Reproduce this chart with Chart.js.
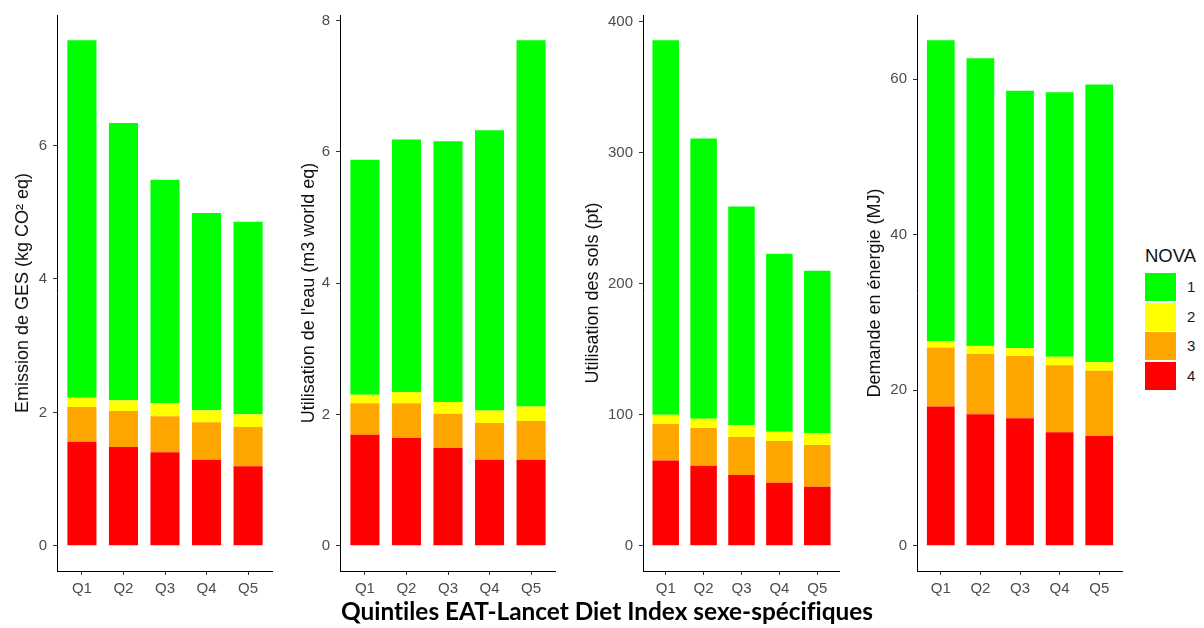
<!DOCTYPE html>
<html lang="fr">
<head>
<meta charset="utf-8">
<title>Impacts environnementaux par quintile EAT-Lancet et groupe NOVA</title>
<script src="https://cdn.jsdelivr.net/npm/chart.js@4.4.1/dist/chart.umd.min.js"></script>
<style>
  html, body { margin: 0; padding: 0; background: #ffffff; }
  body { width: 1204px; height: 628px; position: relative; overflow: hidden; }
  .panel { position: absolute; top: 0; height: 628px; }
  .panel canvas { display: block; }
  #xTitle {
    position: absolute; left: 307px; width: 600px; top: 599px;
    text-align: center; font: bold 24.4px/24px Lato, "Open Sans", sans-serif; color: #000;
    white-space: nowrap; font-variant-ligatures: none; font-feature-settings: "liga" 0;
  }
  #legend { position: absolute; left: 1145px; top: 247px; font-family: "Liberation Sans", Arial, sans-serif; }
  #legend .ttl { font-size: 18.5px; line-height: 18px; color: #111; height: 26px; }
  #legend .row { position: relative; height: 29.5px; }
  #legend .key { position: absolute; left: 0; top: 0; width: 31px; height: 28px; }
  #legend .lab { position: absolute; left: 42px; top: 0; height: 28px; line-height: 28px; font-size: 15px; color: #1a1a1a; }
</style>
</head>
<body>

<div class="panel" id="p1" style="left:0px;width:273px"><canvas id="c1" width="273" height="628"></canvas></div>
<div class="panel" id="p2" style="left:290px;width:266px"><canvas id="c2" width="266" height="628"></canvas></div>
<div class="panel" id="p3" style="left:575px;width:265px"><canvas id="c3" width="265" height="628"></canvas></div>
<div class="panel" id="p4" style="left:855px;width:268px"><canvas id="c4" width="268" height="628"></canvas></div>

<div id="xTitle">Quintiles EAT-Lancet Diet Index sexe-spécifiques</div>
<div id="legend"></div>

<script>
// Quintiles of the sex-specific EAT-Lancet Diet Index
const quintiles = ['Q1', 'Q2', 'Q3', 'Q4', 'Q5'];

// NOVA groups, legend order
const novaGroups = ['1', '2', '3', '4'];
const novaColors = { '1': '#00ff00', '2': '#ffff00', '3': '#ffa500', '4': '#ff0000' };

// Greenhouse gas emissions (kg CO2 eq), contribution of each NOVA group
const gesNova1 = [5.36, 4.16, 3.35, 2.96, 2.89];
const gesNova2 = [0.14, 0.16, 0.20, 0.18, 0.19];
const gesNova3 = [0.52, 0.54, 0.54, 0.56, 0.59];
const gesNova4 = [1.56, 1.48, 1.40, 1.29, 1.19];

// Water use (m3 world eq)
const eauNova1 = [3.58, 3.85, 3.97, 4.27, 5.58];
const eauNova2 = [0.13, 0.17, 0.18, 0.19, 0.22];
const eauNova3 = [0.48, 0.53, 0.52, 0.56, 0.59];
const eauNova4 = [1.69, 1.64, 1.49, 1.31, 1.31];

// Land use (pt)
const solsNova1 = [286, 214, 167, 136, 124];
const solsNova2 = [7, 7, 9, 7, 9];
const solsNova3 = [28, 29, 29, 32, 32];
const solsNova4 = [65, 61, 54, 48, 45];

// Energy demand (MJ)
const energieNova1 = [38.7, 37.0, 33.1, 34.0, 35.7];
const energieNova2 = [0.8, 1.0, 1.0, 1.1, 1.1];
const energieNova3 = [7.6, 7.8, 8.0, 8.6, 8.4];
const energieNova4 = [17.9, 16.9, 16.4, 14.6, 14.1];

// Y tick values per panel
const gesTicks = [0, 2, 4, 6];
const eauTicks = [0, 2, 4, 6, 8];
const solsTicks = [0, 100, 200, 300, 400];
const energieTicks = [0, 20, 40, 60];

// Axis titles
const gesTitle = 'Emission de GES (kg CO\u00b2 eq)';
const eauTitle = "Utilisation de l'eau (m3 world eq)";
const solsTitle = 'Utilisation des sols (pt)';
const energieTitle = 'Demande en \u00e9nergie (MJ)';

const AXIS_FONT = '"Liberation Sans", Arial, sans-serif';

// Rotated y-axis title drawn on the canvas
const yTitlePlugin = {
  id: 'yAxisTitle',
  afterDraw(chart, args, opts) {
    const ctx = chart.ctx;
    ctx.save();
    ctx.translate(opts.x, opts.y);
    ctx.rotate(-Math.PI / 2);
    ctx.font = '18px ' + AXIS_FONT;
    ctx.fillStyle = '#111111';
    ctx.textAlign = 'center';
    ctx.textBaseline = 'middle';
    ctx.fillText(opts.text, 0, 0);
    ctx.restore();
  }
};

function makePanel(canvasId, series, ticks, title, layout) {
  // series in stacking order: NOVA 4 at the bottom, NOVA 1 on top
  const stackOrder = ['4', '3', '2', '1'];
  const totals = quintiles.map((_, i) => stackOrder.reduce((s, g) => s + series[g][i], 0));
  const top = Math.max(...totals);

  const datasets = stackOrder.map(g => ({
    label: g,
    data: series[g].map((v, i) => ({ x: i + 1, y: v })),
    backgroundColor: novaColors[g],
    borderWidth: 0,
    barPercentage: 0.7,
    categoryPercentage: 1.0
  }));

  const gridOpts = {
    display: true,
    offset: false,
    drawOnChartArea: false,
    drawTicks: true,
    tickLength: 4,
    tickColor: '#333333',
    tickWidth: 1
  };

  return new Chart(document.getElementById(canvasId), {
    type: 'bar',
    data: { datasets },
    plugins: [yTitlePlugin],
    options: {
      responsive: false,
      animation: false,
      devicePixelRatio: 1,
      layout: { padding: { top: 15, right: 0, bottom: 0, left: 0 } },
      plugins: {
        legend: { display: false },
        tooltip: { enabled: false },
        yAxisTitle: { text: title, x: layout.titleX, y: 293 }
      },
      scales: {
        x: {
          type: 'linear',
          stacked: true,
          offset: false,
          min: 0.4,
          max: 5.6,
          afterBuildTicks: s => { s.ticks = quintiles.map((_, i) => ({ value: i + 1 })); },
          afterFit: s => { s.height = 57; },
          ticks: {
            autoSkip: false,
            maxRotation: 0,
            padding: 5,
            color: '#4d4d4d',
            font: { family: AXIS_FONT, size: 15 },
            callback: v => quintiles[Math.round(v) - 1]
          },
          grid: gridOpts,
          border: { display: true, color: '#000000', width: 1 }
        },
        y: {
          stacked: true,
          min: -0.05 * top,
          max: 1.05 * top,
          afterBuildTicks: s => { s.ticks = ticks.map(v => ({ value: v })); },
          afterFit: s => { s.width = layout.yWidth; },
          ticks: {
            padding: 6,
            color: '#4d4d4d',
            font: { family: AXIS_FONT, size: 15 }
          },
          grid: gridOpts,
          border: { display: true, color: '#000000', width: 1 }
        }
      }
    }
  });
}

makePanel('c1', { '1': gesNova1, '2': gesNova2, '3': gesNova3, '4': gesNova4 },
  gesTicks, gesTitle, { yWidth: 57, titleX: 23 });
makePanel('c2', { '1': eauNova1, '2': eauNova2, '3': eauNova3, '4': eauNova4 },
  eauTicks, eauTitle, { yWidth: 50, titleX: 19 });
makePanel('c3', { '1': solsNova1, '2': solsNova2, '3': solsNova3, '4': solsNova4 },
  solsTicks, solsTitle, { yWidth: 68, titleX: 18 });
makePanel('c4', { '1': energieNova1, '2': energieNova2, '3': energieNova3, '4': energieNova4 },
  energieTicks, energieTitle, { yWidth: 62, titleX: 20 });

// Legend: NOVA groups
const legend = document.getElementById('legend');
const ttl = document.createElement('div');
ttl.className = 'ttl';
ttl.textContent = 'NOVA';
legend.appendChild(ttl);
novaGroups.forEach(g => {
  const row = document.createElement('div');
  row.className = 'row';
  const key = document.createElement('div');
  key.className = 'key';
  key.style.background = novaColors[g];
  const lab = document.createElement('div');
  lab.className = 'lab';
  lab.textContent = g;
  row.appendChild(key);
  row.appendChild(lab);
  legend.appendChild(row);
});
</script>
</body>
</html>
